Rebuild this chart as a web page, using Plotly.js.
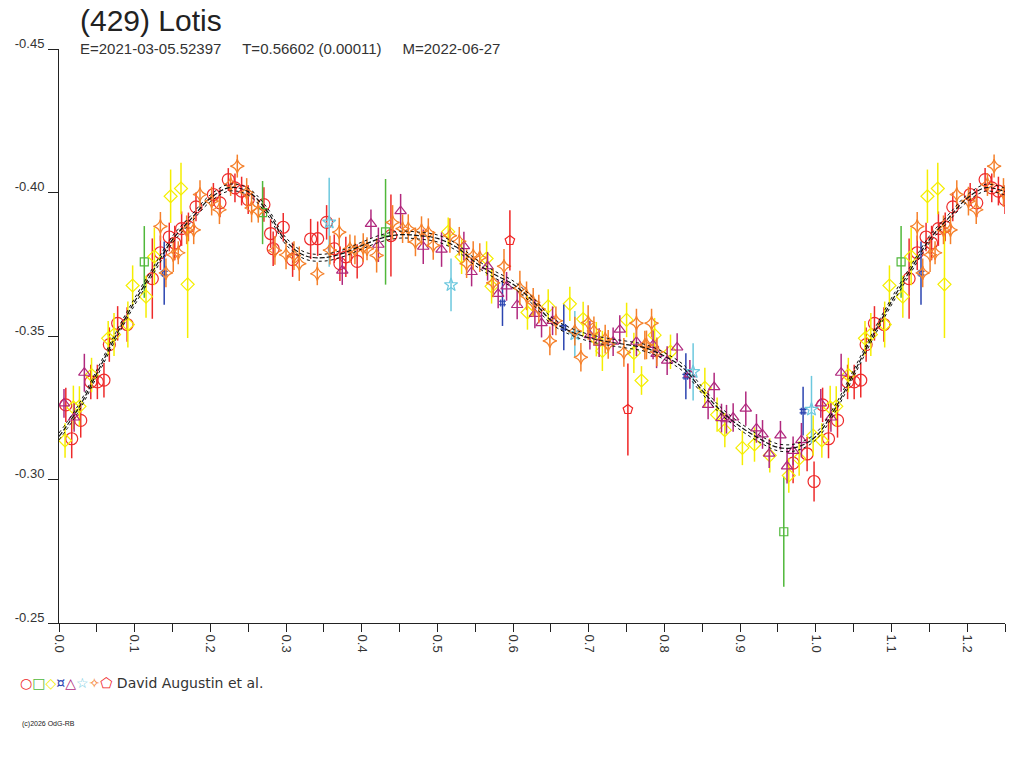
<!DOCTYPE html>
<html>
<head>
<meta charset="utf-8">
<script src="https://cdn.plot.ly/plotly-3.0.1.min.js"></script>
<style>
  html, body { margin: 0; padding: 0; background: #fff; }
  #plot { width: 1024px; height: 768px; }
</style>
</head>
<body>
<div id="plot"></div>
<script>
// phase, magnitude, error for each observing session
var redPh  = [0.0168,0.009,0.0287,0.042,0.0507,0.0594,0.0665,0.0775,0.090,0.1233,0.134,0.1457,0.153,0.162,0.171,0.181,0.204,0.2127,0.2237,0.2325,0.2413,0.25,0.2708,0.2796,0.283,0.2963,0.3087,0.3325,0.3418,0.3536,0.3637,0.3712,0.379,0.394,0.4386,0.970,0.9885,0.9977];
var redMag = [-0.3142,-0.326,-0.3206,-0.334,-0.334,-0.3346,-0.347,-0.3544,-0.354,-0.370,-0.379,-0.3845,-0.3824,-0.3874,-0.388,-0.395,-0.3993,-0.3964,-0.4045,-0.4016,-0.4005,-0.3975,-0.3958,-0.3857,-0.3804,-0.3879,-0.3766,-0.3838,-0.3839,-0.3896,-0.3804,-0.3752,-0.3776,-0.376,-0.385,-0.3057,-0.3089,-0.2993];
var redErr = [0.0068,0.006,0.006,0.006,0.006,0.006,0.006,0.006,0.006,0.014,0.006,0.005,0.006,0.006,0.005,0.005,0.004,0.005,0.004,0.005,0.005,0.005,0.006,0.005,0.006,0.005,0.006,0.007,0.006,0.006,0.005,0.006,0.007,0.006,0.0143,0.007,0.006,0.007];

var greenPh  = [0.1127,0.269,0.4315,0.9577];
var greenMag = [-0.3758,-0.393,-0.3863,-0.2818];
var greenErr = [0.0125,0.011,0.0184,0.0192];

var yellowPh  = [0.008,0.019,0.027,0.043,0.065,0.0727,0.091,0.0973,0.115,0.126,0.1475,0.1612,0.170,0.5143,0.532,0.565,0.5716,0.619,0.6464,0.675,0.6926,0.710,0.718,0.75,0.7596,0.7697,0.787,0.808,0.8534,0.8696,0.8798,0.903,0.919,0.9392,0.9643,0.978,0.9965];
var yellowMag = [-0.3136,-0.3251,-0.3255,-0.3364,-0.3492,-0.3505,-0.354,-0.3676,-0.3637,-0.3777,-0.3987,-0.4014,-0.368,-0.3863,-0.3776,-0.377,-0.3673,-0.3582,-0.3603,-0.3612,-0.3559,-0.3489,-0.3448,-0.3556,-0.3441,-0.3345,-0.3503,-0.3445,-0.3319,-0.3226,-0.3172,-0.311,-0.3122,-0.3084,-0.3014,-0.3073,-0.3153];
var yellowErr = [0.006,0.0076,0.007,0.006,0.006,0.0075,0.008,0.007,0.0073,0.01,0.0093,0.009,0.0187,0.005,0.006,0.006,0.006,0.006,0.006,0.006,0.006,0.006,0.007,0.006,0.007,0.005,0.006,0.006,0.007,0.006,0.006,0.006,0.006,0.006,0.006,0.006,0.007];

var bluePh  = [0.139,0.586,0.667,0.8283,0.9832];
var blueMag = [-0.3719,-0.3615,-0.353,-0.336,-0.3238];
var blueErr = [0.011,0.008,0.008,0.008,0.0085];

var purplePh  = [0.0066,0.020,0.0335,0.3743,0.4122,0.422,0.4514,0.4813,0.5055,0.535,0.5452,0.5663,0.5803,0.5914,0.6054,0.6288,0.6376,0.6522,0.7015,0.7137,0.7322,0.741,0.763,0.785,0.7896,0.8036,0.8168,0.8336,0.8577,0.8657,0.8754,0.882,0.8908,0.9075,0.9216,0.9296,0.9384,0.9533,0.962,0.970,0.981];
var purpleMag = [-0.3265,-0.3216,-0.3372,-0.3728,-0.3891,-0.3818,-0.3935,-0.3811,-0.3801,-0.3813,-0.3723,-0.3743,-0.3647,-0.3673,-0.3608,-0.3577,-0.3545,-0.3553,-0.3503,-0.3477,-0.348,-0.3522,-0.348,-0.3469,-0.3438,-0.3414,-0.346,-0.3366,-0.326,-0.3322,-0.3214,-0.321,-0.3216,-0.3247,-0.3178,-0.3157,-0.309,-0.3154,-0.3046,-0.310,-0.3137];
var purpleErr = [0.005,0.005,0.0066,0.005,0.005,0.006,0.006,0.006,0.006,0.005,0.005,0.005,0.005,0.005,0.005,0.005,0.005,0.005,0.005,0.005,0.005,0.005,0.005,0.005,0.005,0.005,0.005,0.005,0.005,0.005,0.005,0.005,0.005,0.006,0.005,0.005,0.005,0.005,0.006,0.005,0.006];

var cyanPh  = [0.357,0.518,0.6816,0.8379,0.9943];
var cyanMag = [-0.3896,-0.3678,-0.3507,-0.3375,-0.3244];
var cyanErr = [0.0155,0.0092,0.008,0.01,0.0117];

var orangePh  = [0.134,0.1413,0.151,0.1576,0.1687,0.178,0.1863,0.2017,0.212,0.2268,0.2356,0.248,0.2545,0.2633,0.2853,0.3,0.3105,0.3175,0.3413,0.358,0.3703,0.3844,0.391,0.402,0.407,0.4197,0.4408,0.454,0.4615,0.471,0.479,0.488,0.4945,0.5165,0.5289,0.5386,0.5473,0.556,0.5737,0.588,0.609,0.6178,0.6266,0.634,0.6486,0.6566,0.6816,0.6896,0.6992,0.7068,0.7217,0.7257,0.7464,0.763,0.7741,0.7763,0.783,0.790];
var orangeMag = [-0.3882,-0.372,-0.3783,-0.379,-0.387,-0.387,-0.3993,-0.397,-0.394,-0.4028,-0.4092,-0.4,-0.3946,-0.3935,-0.3798,-0.3783,-0.378,-0.3752,-0.3717,-0.3799,-0.3862,-0.3804,-0.38,-0.3808,-0.3804,-0.3781,-0.3896,-0.3874,-0.3874,-0.3828,-0.3867,-0.386,-0.3816,-0.385,-0.383,-0.3752,-0.378,-0.3773,-0.3685,-0.3743,-0.3667,-0.364,-0.3617,-0.3594,-0.3483,-0.3553,-0.3517,-0.3426,-0.3547,-0.3518,-0.3489,-0.3471,-0.3443,-0.3545,-0.3468,-0.3469,-0.3545,-0.3445];
var orangeErr = [0.005,0.005,0.006,0.004,0.005,0.005,0.005,0.005,0.005,0.004,0.004,0.005,0.005,0.004,0.005,0.005,0.005,0.006,0.004,0.005,0.005,0.005,0.005,0.005,0.004,0.006,0.006,0.005,0.005,0.005,0.005,0.005,0.005,0.006,0.005,0.005,0.005,0.005,0.005,0.006,0.006,0.005,0.005,0.005,0.005,0.005,0.005,0.005,0.006,0.005,0.005,0.005,0.005,0.005,0.005,0.005,0.005,0.005];

var pentPh  = [0.5958,0.7517];
var pentMag = [-0.3833,-0.3244];
var pentErr = [0.0105,0.016];

// fitted lightcurve, read every 0.025 in phase
var fitPh  = [0,0.025,0.05,0.075,0.1,0.125,0.15,0.175,0.2,0.225,0.25,0.275,0.3,0.325,0.35,0.375,0.4,0.425,0.45,0.475,0.5,0.525,0.55,0.575,0.6,0.625,0.65,0.675,0.7,0.725,0.75,0.775,0.8,0.825,0.85,0.875,0.9,0.925,0.95,0.975,1.0];
var fitMag = [-0.3150,-0.3245,-0.3370,-0.3500,-0.3620,-0.3730,-0.3836,-0.3910,-0.3980,-0.4017,-0.4003,-0.3935,-0.3830,-0.3780,-0.3773,-0.3788,-0.3815,-0.3840,-0.3853,-0.3850,-0.3840,-0.3810,-0.3757,-0.3715,-0.3680,-0.3625,-0.3555,-0.3517,-0.3494,-0.3480,-0.3470,-0.3458,-0.3430,-0.3388,-0.3310,-0.3238,-0.3185,-0.3143,-0.3112,-0.3113,-0.3150];
var fitBand = 0.0012;

var yTickVals = [-0.45,-0.40,-0.35,-0.30,-0.25];
var yTickText = ['-0.45','-0.40','-0.35','-0.30','-0.25'];

var phaseMax = 1.25;

// points before phaseMax-1 are shown a second time past phase 1
function wrap(ph, vals) {
    var x = ph.slice(), y = vals.slice();
    for (var i = 0; i < ph.length; i++) {
        if (ph[i] + 1 <= phaseMax) {
            x.push(ph[i] + 1);
            y.push(vals[i]);
        }
    }
    return [x, y];
}

function series(ph, mag, err, symbol, color, size) {
    var xy = wrap(ph, mag);
    var e = wrap(ph, err)[1];
    return {
        x: xy[0], y: xy[1],
        type: 'scatter', mode: 'markers', showlegend: false,
        marker: { symbol: symbol, size: size, color: color, line: { color: color, width: 1.2 } },
        error_y: { type: 'data', array: e, visible: true, thickness: 1.5, width: 0, color: color }
    };
}

var RED = '#ee2a2a', GREEN = '#50b83a', YELLOW = '#f5ee00', BLUE = '#2b44b0',
    PURPLE = '#b0287e', CYAN = '#6cc8de', ORANGE = '#f5802a', PENT = '#f02424';

var data = [
    series(redPh, redMag, redErr, 'circle-open', RED, 12),
    series(greenPh, greenMag, greenErr, 'square-open', GREEN, 8),
    series(yellowPh, yellowMag, yellowErr, 'diamond-open', YELLOW, 10),
    series(bluePh, blueMag, blueErr, 'hash-open', BLUE, 7),
    series(purplePh, purpleMag, purpleErr, 'triangle-up-open', PURPLE, 10),
    series(cyanPh, cyanMag, cyanErr, 'star-open', CYAN, 10),
    series(orangePh, orangeMag, orangeErr, 'star-diamond-open', ORANGE, 10),
    series(pentPh, pentMag, pentErr, 'pentagon-open', PENT, 10)
];

var fit = wrap(fitPh.slice(0, -1), fitMag.slice(0, -1));
var fx = fit[0], fy = fit[1];
var order = fx.map(function(v, i) { return i; }).sort(function(a, b) { return fx[a] - fx[b]; });
fx = order.map(function(i) { return fx[i]; });
fy = order.map(function(i) { return fy[i]; });
fx.push(phaseMax); fy.push(fitMag[Math.round(0.25 / 0.025)]);
var fyUp = fy.map(function(v) { return v - fitBand; });
var fyLo = fy.map(function(v) { return v + fitBand; });

data.push({ x: fx, y: fyUp, type: 'scatter', mode: 'lines', showlegend: false, hoverinfo: 'skip',
    line: { color: '#111', width: 1, dash: 'dot', shape: 'spline' } });
data.push({ x: fx, y: fy, type: 'scatter', mode: 'lines', showlegend: false, hoverinfo: 'skip',
    line: { color: '#111', width: 1.2, dash: '5px,2px', shape: 'spline' } });
data.push({ x: fx, y: fyLo, type: 'scatter', mode: 'lines', showlegend: false, hoverinfo: 'skip',
    line: { color: '#111', width: 1, dash: 'dot', shape: 'spline' } });

var legendSymbols =
    '<span style="color:' + RED + '">○</span>' +
    '<span style="color:' + GREEN + '">□</span>' +
    '<span style="color:' + YELLOW + '">◇</span>' +
    '<span style="color:' + BLUE + '">¤</span>' +
    '<span style="color:' + PURPLE + '">△</span>' +
    '<span style="color:' + CYAN + '">☆</span>' +
    '<span style="color:' + ORANGE + '">✧</span>' +
    '<span style="color:' + PENT + '">⬠</span>';

var font = 'Liberation Sans, Arial, sans-serif';

var layout = {
    width: 1024, height: 768,
    margin: { l: 59, r: 19, t: 49, b: 145 },
    paper_bgcolor: '#fff', plot_bgcolor: '#fff',
    font: { family: font, color: '#222', size: 13 },
    xaxis: {
        range: [0, phaseMax], tickmode: 'linear', tick0: 0, dtick: 0.1, tickformat: '.1f',
        tickangle: 90, ticks: 'outside', ticklen: 8, tickcolor: '#222', tickwidth: 1,
        showline: true, linecolor: '#222', linewidth: 1, showgrid: false, zeroline: false,
        minor: { tick0: 0, dtick: 0.05, ticks: 'outside', ticklen: 8, tickcolor: '#222', tickwidth: 1, showgrid: false },
        tickfont: { size: 13, family: font, color: '#333' }
    },
    yaxis: {
        range: [-0.25, -0.45], tickmode: 'array', tickvals: yTickVals, ticktext: yTickText,
        ticks: 'outside', ticklen: 10, tickcolor: '#222', tickwidth: 1,
        ticklabelstandoff: 1, ticklabelshift: 6,
        showline: true, linecolor: '#222', linewidth: 1, showgrid: false, zeroline: false,
        tickfont: { size: 13, family: font, color: '#333' }
    },
    annotations: [
        { text: '(429) Lotis', xref: 'paper', yref: 'paper', x: 0.02, y: 1.05, xanchor: 'left', yanchor: 'middle',
          showarrow: false, font: { size: 30, family: font, color: '#222' } },
        { text: 'E=2021-03-05.52397&nbsp;&nbsp;&nbsp;&nbsp;&nbsp;T=0.56602 (0.00011)&nbsp;&nbsp;&nbsp;&nbsp;&nbsp;M=2022-06-27',
          xref: 'paper', yref: 'paper', x: 0.02, y: 1.0017, xanchor: 'left', yanchor: 'middle',
          showarrow: false, font: { size: 15, family: font, color: '#333' } },
        { text: legendSymbols + ' <span style="color:#333">David Augustin et al.</span>',
          xref: 'paper', yref: 'paper', x: -0.0435, y: -0.1045, xanchor: 'left', yanchor: 'middle',
          showarrow: false, font: { size: 14, family: 'DejaVu Sans, ' + font, color: '#333' } },
        { text: '(c)2026 OdG-RB', xref: 'paper', yref: 'paper', x: -0.0412, y: -0.176, xanchor: 'left', yanchor: 'middle',
          showarrow: false, font: { size: 7, family: font, color: '#222' } }
    ]
};

Plotly.newPlot('plot', data, layout, { staticPlot: true });
</script>
</body>
</html>
